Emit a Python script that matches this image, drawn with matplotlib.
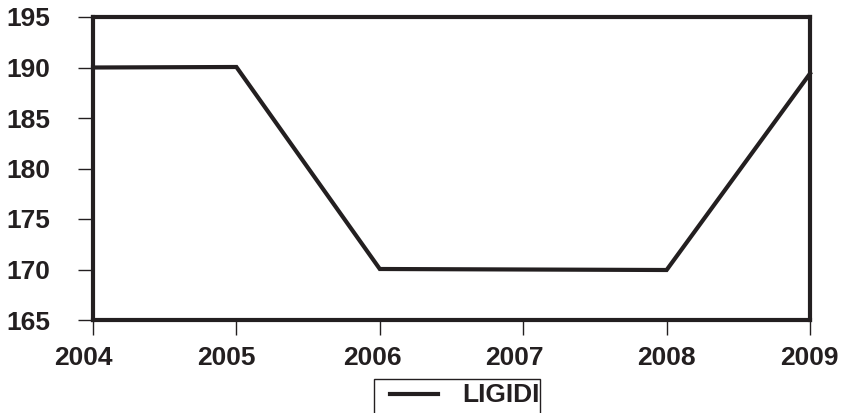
import matplotlib
matplotlib.use("Agg")
import matplotlib.pyplot as plt
from matplotlib.lines import Line2D
from matplotlib.patches import Rectangle
from matplotlib.transforms import ScaledTranslation

years = [2004, 2005, 2006, 2007, 2008, 2009]
values = [190.0, 190.05, 170.05, 170.0, 169.95, 189.4]
series_name = "LIGIDI"
yticks = [165, 170, 175, 180, 185, 190, 195]

W, H = 848, 413
ink = "#231f20"
plt.rcParams['font.family'] = ['Liberation Sans', 'DejaVu Sans']

fig = plt.figure(figsize=(W / 100, H / 100), dpi=100)
ax = fig.add_axes([93 / W, 1 - 320 / H, (810 - 93) / W, (320 - 17) / H])
ax.plot(years, values, color=ink, lw=3.0, solid_joinstyle='miter', clip_on=False)
ax.set_xlim(2004, 2009)
ax.set_ylim(165, 195)
ax.set_xticks(years)
ax.set_yticks(yticks)
for s in ax.spines.values():
    s.set_linewidth(3.0)
    s.set_color(ink)
ax.tick_params(direction='out', length=11, width=1.0, color=ink, labelcolor=ink,
               labelsize=19)
ax.tick_params(axis='y', pad=20)
ax.tick_params(axis='x', pad=8)
for lab in ax.get_xticklabels() + ax.get_yticklabels():
    lab.set_fontweight('bold')

# small horizontal offsets of the x tick labels seen in the reference (pixels)
x_label_shift = [-9.5, -10, -7, -9, 0, -1]
for lab, dx in zip(ax.get_xticklabels(), x_label_shift):
    lab.set_transform(lab.get_transform() + ScaledTranslation(dx / 100, 0, fig.dpi_scale_trans))

# legend box (bottom edge falls outside the figure)
x0, x1, ytop = 374, 540, 379
fig.add_artist(Rectangle((x0 / W, -0.2), (x1 - x0) / W, 0.2 + (1 - ytop / H),
                         transform=fig.transFigure, fill=False, edgecolor=ink, lw=1.0))
fig.add_artist(Line2D([390 / W, 438 / W], [1 - 394 / H, 1 - 394 / H],
                      transform=fig.transFigure, color=ink, lw=3.0))
fig.text(462 / W, 1 - 395 / H, series_name, ha='left', va='center', fontsize=19,
         fontweight='bold', color=ink)

fig.savefig("out.png", dpi=100)
